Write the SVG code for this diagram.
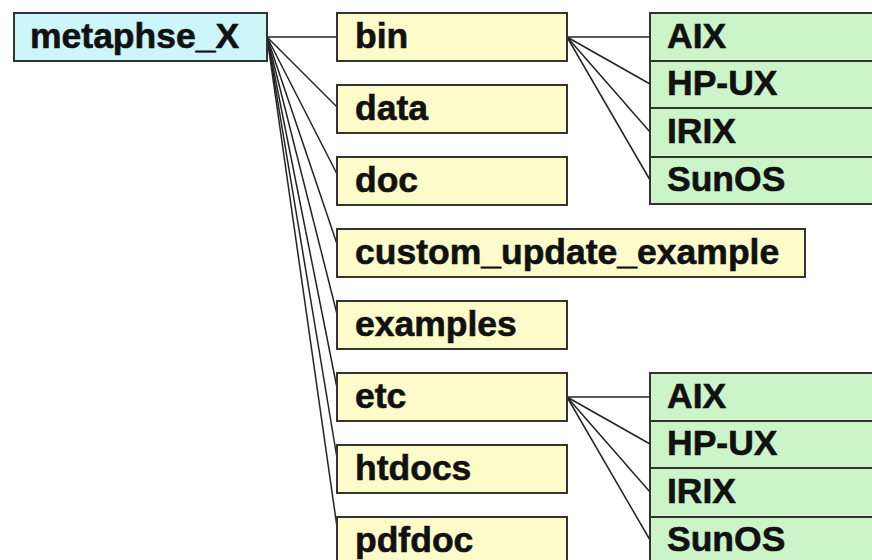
<svg xmlns="http://www.w3.org/2000/svg" width="872" height="560" viewBox="0 0 872 560">
<style>
.box{stroke:#333;stroke-width:2}
.root{fill:#ccf6fa}
.dir{fill:#fcfccb}
.os{fill:#cbf5c9}
text{font-family:"Liberation Sans",Arial,sans-serif;font-weight:bold;font-size:35.5px;fill:#111;stroke:#111;stroke-width:0.6}
.con line{stroke:#222;stroke-width:1.5}
</style>
<rect width="872" height="560" fill="#fff"/>
<g class="con" id="connectors">
<line x1="267" y1="37" x2="337" y2="37"/>
<line x1="267" y1="37" x2="337" y2="107"/>
<line x1="267" y1="37" x2="337" y2="174"/>
<line x1="267" y1="37" x2="337" y2="244"/>
<line x1="267" y1="37" x2="337" y2="314"/>
<line x1="267" y1="37" x2="337" y2="388"/>
<line x1="267" y1="37" x2="337" y2="458"/>
<line x1="267" y1="37" x2="337" y2="527"/>
<line x1="567" y1="37" x2="650" y2="37"/>
<line x1="567" y1="37" x2="650" y2="84"/>
<line x1="567" y1="37" x2="650" y2="132"/>
<line x1="567" y1="37" x2="650" y2="180"/>
<line x1="567" y1="397" x2="650" y2="397"/>
<line x1="567" y1="397" x2="650" y2="444"/>
<line x1="567" y1="397" x2="650" y2="492"/>
<line x1="567" y1="397" x2="650" y2="540"/>
</g>
<g id="metaphse_X"><rect class="box root" x="14" y="13" width="253" height="48"/><text x="30" y="48">metaphse_X</text></g>
<g id="bin"><rect class="box dir" x="337" y="13" width="230" height="48"/><text x="355" y="48">bin</text></g>
<g id="data"><rect class="box dir" x="337" y="85" width="230" height="48"/><text x="355" y="120">data</text></g>
<g id="doc"><rect class="box dir" x="337" y="157" width="230" height="48"/><text x="355" y="192">doc</text></g>
<g id="custom_update_example"><rect class="box dir" x="337" y="229" width="468" height="48"/><text x="355" y="264">custom_update_example</text></g>
<g id="examples"><rect class="box dir" x="337" y="301" width="230" height="48"/><text x="355" y="336">examples</text></g>
<g id="etc"><rect class="box dir" x="337" y="373" width="230" height="48"/><text x="355" y="408">etc</text></g>
<g id="htdocs"><rect class="box dir" x="337" y="445" width="230" height="48"/><text x="355" y="480">htdocs</text></g>
<g id="pdfdoc"><rect class="box dir" x="337" y="517" width="230" height="48"/><text x="355" y="552">pdfdoc</text></g>
<g id="bin_AIX"><rect class="box os" x="650" y="13" width="240" height="48"/><text x="667" y="48">AIX</text></g>
<g id="bin_HP-UX"><rect class="box os" x="650" y="61" width="240" height="47"/><text x="667" y="95">HP-UX</text></g>
<g id="bin_IRIX"><rect class="box os" x="650" y="108" width="240" height="49"/><text x="667" y="143">IRIX</text></g>
<g id="bin_SunOS"><rect class="box os" x="650" y="157" width="240" height="47"/><text x="667" y="191">SunOS</text></g>
<g id="etc_AIX"><rect class="box os" x="650" y="373" width="240" height="48"/><text x="667" y="408">AIX</text></g>
<g id="etc_HP-UX"><rect class="box os" x="650" y="421" width="240" height="47"/><text x="667" y="455">HP-UX</text></g>
<g id="etc_IRIX"><rect class="box os" x="650" y="468" width="240" height="49"/><text x="667" y="503">IRIX</text></g>
<g id="etc_SunOS"><rect class="box os" x="650" y="517" width="240" height="48"/><text x="667" y="551">SunOS</text></g>
</svg>
